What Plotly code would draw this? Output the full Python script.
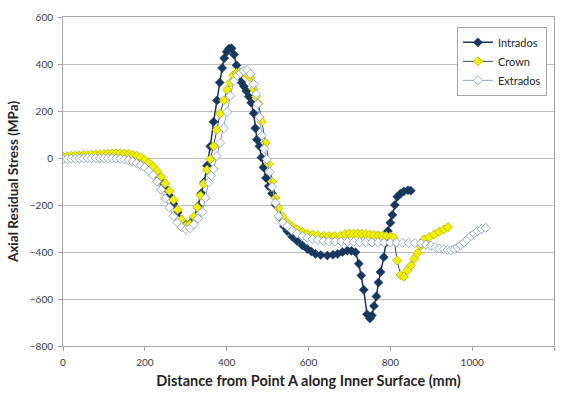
import plotly.graph_objects as go

# Axial residual stress profiles along the inner surface
X_INTRADOS = [0, 10, 20, 30, 40, 50, 60, 70, 80, 90, 100, 110, 120, 130, 140, 150, 160, 170, 180,
              190, 200, 210, 220, 230, 240, 250, 260, 270, 280, 290, 300, 310, 320, 330, 338, 345,
              352, 360, 368, 376, 383, 389, 394, 400, 406, 412, 418, 424, 430, 436, 442, 448, 454,
              460, 466, 470, 474, 480, 485, 490, 496, 503, 511, 520, 531, 540, 548, 560, 572, 585,
              597, 607, 617, 630, 646, 660, 671, 683, 695, 705, 715, 723, 729, 735, 743, 750, 755,
              760, 766, 771, 776, 784, 789, 794, 800, 805, 811, 817, 825, 833, 843, 850]
Y_INTRADOS = [2, 3, 4, 5, 6, 7, 8, 9, 10, 11, 12, 13, 13, 14, 13, 11, 8, 4, -2, -10, -20, -33, -50,
              -72, -98, -128, -160, -195, -232, -265, -285, -280, -255, -205, -150, -103, -33, 50,
              154, 245, 321, 383, 425, 452, 466, 467, 440, 395, 350, 322, 305, 285, 262, 235, 190,
              127, 78, 50, 2, -40, -85, -120, -151, -200, -255, -290, -311, -335, -353, -372, -387,
              -398, -408, -413, -415, -412, -408, -400, -394, -395, -401, -450, -500, -561, -665,
              -683, -670, -630, -589, -530, -485, -422, -360, -311, -275, -242, -200, -165, -151,
              -142, -137, -139]

X_CROWN = [0, 10, 20, 30, 40, 50, 60, 70, 80, 90, 100, 110, 120, 130, 140, 150, 160, 170, 180, 190,
           200, 210, 220, 230, 240, 250, 260, 270, 280, 290, 300, 310, 320, 328, 336, 344, 352, 360,
           368, 376, 384, 393, 401, 409, 416, 424, 432, 440, 446, 452, 458, 466, 472, 478, 486, 495,
           503, 511, 519, 527, 537, 548, 560, 572, 585, 597, 610, 623, 637, 650, 664, 678, 690, 700,
           710, 720, 730, 740, 750, 760, 770, 780, 790, 800, 808, 817, 825, 833, 842, 850, 858, 866,
           874, 882, 895, 907, 919, 931, 941]
Y_CROWN = [6, 8, 9, 10, 11, 12, 13, 14, 15, 16, 17, 18, 19, 20, 20, 19, 17, 14, 9, 2, -8, -20, -36,
           -56, -80, -108, -140, -178, -220, -262, -288, -282, -250, -210, -160, -110, -50, -5, 50,
           120, 189, 245, 290, 321, 352, 362, 366, 364, 360, 352, 342, 293, 262, 231, 154, 64, -26,
           -100, -170, -214, -250, -276, -292, -304, -314, -322, -326, -329, -331, -332, -332, -331,
           -323, -322, -322, -322, -323, -324, -326, -328, -330, -331, -332, -334, -339, -436, -498,
           -505, -478, -457, -429, -405, -373, -346, -336, -325, -314, -304, -294]

X_EXTRADOS = [0, 10, 20, 30, 40, 50, 60, 70, 80, 90, 100, 110, 120, 130, 140, 150, 160, 170, 180,
              190, 200, 210, 220, 230, 240, 250, 260, 270, 280, 290, 300, 310, 320, 330, 340, 348,
              356, 362, 368, 376, 384, 393, 401, 409, 418, 426, 434, 442, 450, 458, 466, 472, 476,
              480, 486, 492, 498, 505, 511, 519, 527, 537, 548, 560, 572, 585, 597, 610, 623, 637,
              650, 665, 680, 695, 710, 725, 740, 755, 770, 785, 800, 815, 830, 845, 860, 875, 887,
              899, 910, 920, 931, 940, 948, 956, 964, 972, 980, 988, 997, 1005, 1013, 1023, 1033]
Y_EXTRADOS = [-5, -4, -3, -3, -2, -2, -1, -1, -1, -1, -1, -1, -1, -2, -3, -6, -10, -15, -22, -30,
              -40, -55, -73, -100, -135, -172, -210, -248, -275, -294, -304, -298, -282, -258, -230,
              -170, -103, -75, -47, 8, 64, 127, 196, 265, 328, 350, 362, 370, 374, 358, 314, 272, 230,
              175, 95, 40, -5, -60, -123, -190, -248, -275, -290, -308, -322, -332, -339, -345, -349,
              -353, -354, -355, -356, -357, -357, -358, -358, -359, -359, -360, -360, -360, -361,
              -361, -362, -364, -368, -373, -380, -385, -388, -391, -392, -388, -381, -371, -360,
              -346, -332, -322, -311, -303, -297]

X_TICKS = [0, 200, 400, 600, 800, 1000, 1200]
Y_TICKS = [-800, -600, -400, -200, 0, 200, 400, 600]

FONT = "Lato, 'Open Sans', sans-serif"

fig = go.Figure()

fig.add_trace(go.Scatter(
    x=X_INTRADOS, y=Y_INTRADOS, name="Intrados", mode="lines+markers",
    line=dict(color="#17375E", width=1.5),
    marker=dict(symbol="diamond", size=7, color="#17375E",
                line=dict(color="#17375E", width=0.5)),
))
fig.add_trace(go.Scatter(
    x=X_CROWN, y=Y_CROWN, name="Crown", mode="lines+markers",
    line=dict(color="#3B4A5A", width=1),
    marker=dict(symbol="diamond", size=7, color="#F2F200",
                line=dict(color="#B8B800", width=0.8)),
))
fig.add_trace(go.Scatter(
    x=X_EXTRADOS, y=Y_EXTRADOS, name="Extrados", mode="lines+markers",
    line=dict(color="#8EA3BE", width=1),
    marker=dict(symbol="diamond", size=7, color="#FFFFFF",
                line=dict(color="#7F96B8", width=0.8)),
))

fig.update_layout(
    width=565, height=396,
    margin=dict(l=63, r=10, t=15, b=46),
    paper_bgcolor="white", plot_bgcolor="white",
    font=dict(family=FONT, size=10, color="#404040"),
    showlegend=True,
    legend=dict(
        x=0.894, y=0.97, xanchor="center", yanchor="top",
        bgcolor="white", bordercolor="#A6A6A6", borderwidth=1,
        font=dict(family=FONT, size=11, color="#262626"),
        tracegroupgap=0, itemwidth=30,
    ),
    xaxis=dict(
        range=[0, 1200], tickvals=X_TICKS, showgrid=False, zeroline=False,
        showline=True, linecolor="#A6A6A6", linewidth=1, mirror=True,
        ticks="outside", ticklen=4, tickcolor="#A6A6A6", ticklabelstandoff=3,
        tickfont=dict(family=FONT, size=10, color="#404040"),
        title=dict(text="<b>Distance from Point A along Inner Surface (mm)</b>",
                   font=dict(family=FONT, size=14.5, color="#262626"), standoff=8),
    ),
    yaxis=dict(
        range=[-800, 600], tickvals=Y_TICKS, showgrid=True, gridcolor="#BFBFBF",
        gridwidth=1, zeroline=False,
        showline=True, linecolor="#A6A6A6", linewidth=1, mirror=True,
        ticks="outside", ticklen=4, tickcolor="#A6A6A6", ticklabelstandoff=3,
        tickfont=dict(family=FONT, size=10, color="#404040"),
        title=dict(text="<b>Axial Residual Stress (MPa)</b>",
                   font=dict(family=FONT, size=13.5, color="#262626"), standoff=8),
    ),
)

fig.write_html("out.html")
